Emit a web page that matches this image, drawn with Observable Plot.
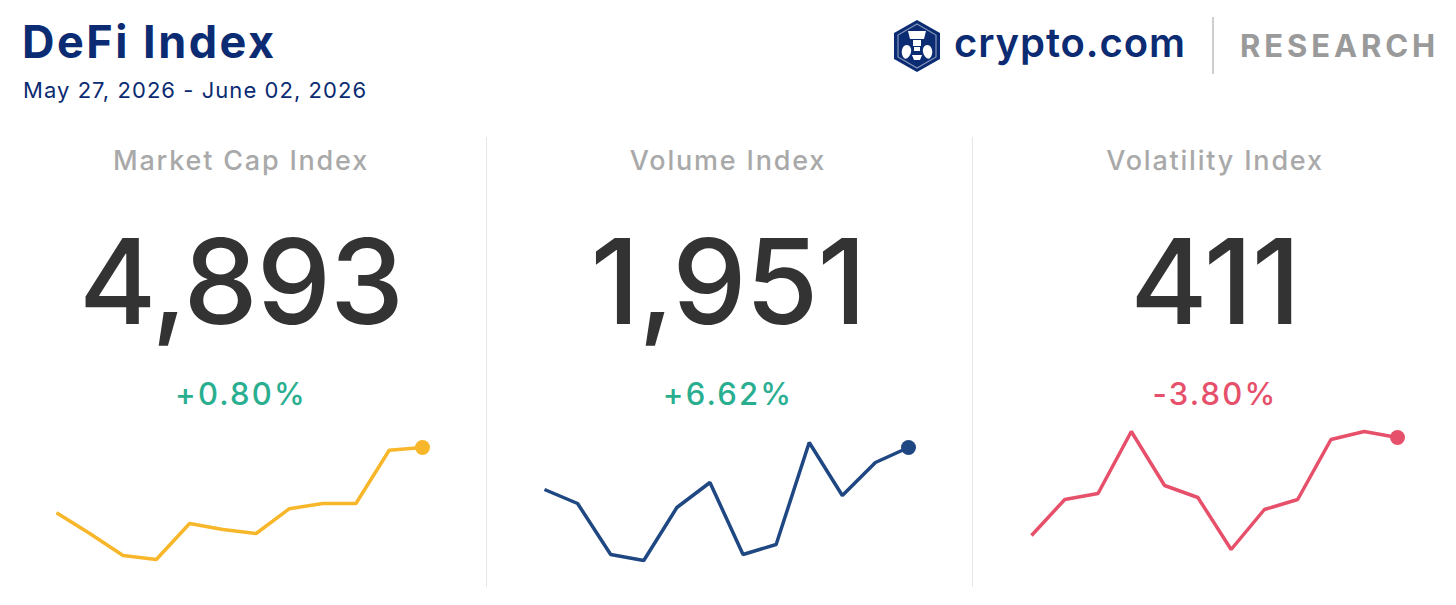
<!DOCTYPE html>
<html>
<head>
<meta charset="utf-8">
<script src="https://cdn.jsdelivr.net/npm/d3@7"></script>
<script src="https://cdn.jsdelivr.net/npm/@observablehq/plot@0.6"></script>
<style>
  html, body { margin: 0; padding: 0; background: #fff; }
  body { width: 1456px; height: 605px; position: relative; overflow: hidden; font-family: Inter, "Noto Sans", sans-serif; }
  .abs { position: absolute; white-space: nowrap; }
  #title { left: 22px; top: 14px; font-size: 45px; font-weight: 700; color: #0b2b72; letter-spacing: 2.5px; }
  #subtitle { left: 23px; top: 77px; font-size: 22px; font-weight: 400; color: #0b2b72; letter-spacing: 1.05px; }
  .panel-title { width: 486px; text-align: center; top: 144px; font-size: 27px; color: #a9a9a9; font-weight: 500; letter-spacing: 1.8px; }
  .panel-value { width: 486px; text-align: center; top: 211px; font-size: 118px; color: #333333; font-weight: 500; letter-spacing: -1px; line-height: 1.2; }
  .panel-change { width: 486px; text-align: center; top: 375px; font-size: 31px; font-weight: 500; letter-spacing: 2.2px; }
  .divider { top: 137px; width: 1px; height: 450px; background: #e6e6e6; }
  #brand { left: 954px; top: 18px; font-size: 40px; font-weight: 600; color: #0b2b72; letter-spacing: 0.9px; }
  #research { left: 1240px; top: 27px; font-size: 31px; font-weight: 700; color: #9a9a9a; letter-spacing: 3.9px; }
  #logoDiv { left: 1212px; top: 17px; width: 2px; height: 57px; background: #cfcfcf; }
</style>
</head>
<body>
<script>
// ---- data ----
const panelTitles = ["Market Cap Index", "Volume Index", "Volatility Index"];
const panelValues = ["4,893", "1,951", "411"];
const panelChanges = ["+0.80%", "+6.62%", "-3.80%"];
const marketCapSeries = [4730, 4678, 4623, 4613, 4703, 4688, 4678, 4740, 4753, 4753, 4886, 4893];
const volumeSeries = [1825, 1783, 1630, 1612, 1771, 1846, 1630, 1660, 1966, 1807, 1906, 1951];
const volatilitySeries = [362, 380, 383, 414, 387, 381, 355, 375, 380, 410, 414, 411];
const seriesColors = ["#f8b72a", "#1f4782", "#e6506a"];
const changeColors = ["#2aae90", "#2aae90", "#e6506a"];

const allSeries = [marketCapSeries, volumeSeries, volatilitySeries];

// ---- header ----
function addDiv(cls, id, text, style) {
  const d = document.createElement("div");
  d.className = "abs " + (cls || "");
  if (id) d.id = id;
  if (text != null) d.textContent = text;
  if (style) Object.assign(d.style, style);
  document.body.appendChild(d);
  return d;
}
addDiv("", "title", "DeFi Index");
addDiv("", "subtitle", "May 27, 2026 - June 02, 2026");
addDiv("", "brand", "crypto.com");
addDiv("", "research", "RESEARCH");
addDiv("", "logoDiv", null);

// hexagon logo
const ns = "http://www.w3.org/2000/svg";
const logo = document.createElementNS(ns, "svg");
logo.setAttribute("width", 50); logo.setAttribute("height", 54);
logo.style.position = "absolute"; logo.style.left = "892px"; logo.style.top = "19px";
logo.innerHTML = `
  <polygon points="25,1 48,14 48,40 25,53 2,40 2,14" fill="#0b2b72"/>
  <polygon points="25,5 44,16 44,38 25,49 6,38 6,16" fill="none" stroke="#ffffff" stroke-width="1.2" opacity="0.5"/>
  <path d="M16,12 H34 L32,20 H18 Z" fill="#fff"/>
  <rect x="21" y="21" width="8" height="6" fill="#fff"/>
  <rect x="22" y="28" width="6" height="4" fill="#fff"/>
  <path d="M12,27 C16,24 20,28 19,33 C18,38 14,41 12,39 C9,36 9,30 12,27 Z" fill="#fff"/>
  <path d="M38,27 C34,24 30,28 31,33 C32,38 36,41 38,39 C41,36 41,30 38,27 Z" fill="#fff"/>
  <path d="M20,36 H30 L28,41 H22 Z" fill="#fff"/>`;
document.body.appendChild(logo);

// ---- panels ----
const panelLeft = [0, 486, 972];
const panelWidth = [486, 486, 484];
const sparkMargins = [
  {left: 56, right: 64, top: 27, bottom: 21},
  {left: 58, right: 64, top: 22, bottom: 20},
  {left: 59, right: 59, top: 11, bottom: 31}
];

panelTitles.forEach((t, i) => {
  const cx = panelLeft[i] + (i === 0 ? -2 : i === 1 ? -1 : 0);
  addDiv("panel-title", null, t, {left: cx + "px"});
  addDiv("panel-value", null, panelValues[i], {left: cx + "px"});
  addDiv("panel-change", null, panelChanges[i], {left: cx + "px", color: changeColors[i]});

  const data = allSeries[i].map((v, k) => ({k, v}));
  const m = sparkMargins[i];
  const chart = Plot.plot({
    width: panelWidth[i],
    height: 160,
    marginLeft: m.left,
    marginRight: m.right,
    marginTop: m.top,
    marginBottom: m.bottom,
    x: {domain: [0, data.length - 1], axis: null},
    y: {domain: d3.extent(allSeries[i]), axis: null},
    style: {background: "transparent", overflow: "visible"},
    marks: [
      Plot.lineY(data, {x: "k", y: "v", stroke: seriesColors[i], strokeWidth: 3.5, strokeLinejoin: "miter", strokeLinecap: "butt"}),
      Plot.dot(data.slice(-1), {x: "k", y: "v", r: 7.5, fill: seriesColors[i], stroke: "none"})
    ]
  });
  chart.style.position = "absolute";
  chart.style.left = panelLeft[i] + "px";
  chart.style.top = "420px";
  document.body.appendChild(chart);
});

addDiv("divider", null, null, {left: "486px"});
addDiv("divider", null, null, {left: "972px"});
</script>
</body>
</html>
